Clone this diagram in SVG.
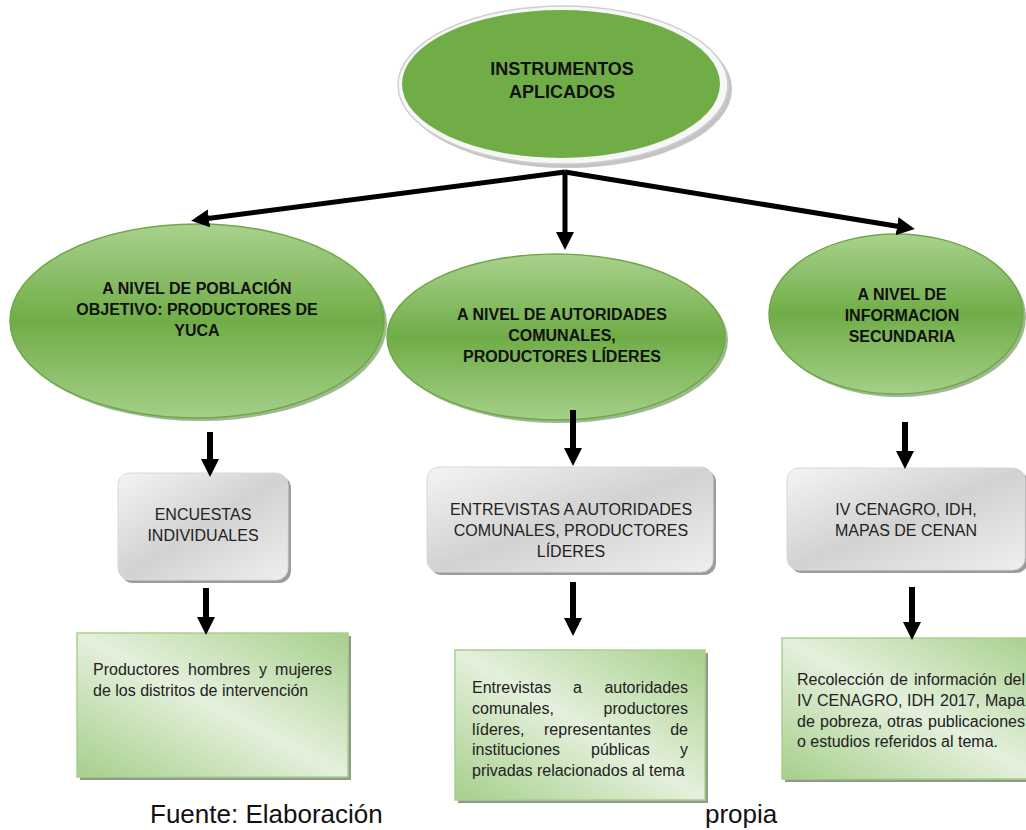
<svg xmlns="http://www.w3.org/2000/svg" width="1026" height="830" viewBox="0 0 1026 830">
<defs>
<linearGradient id="gEll" x1="0" y1="0" x2="0" y2="1">
<stop offset="0" stop-color="#a9d18e"/>
<stop offset="0.5" stop-color="#70ad47"/>
<stop offset="1" stop-color="#a4cf88"/>
</linearGradient>
<linearGradient id="gGrey" x1="0" y1="0" x2="1" y2="1">
<stop offset="0" stop-color="#f4f4f4"/>
<stop offset="0.5" stop-color="#d2d2d2"/>
<stop offset="1" stop-color="#efefef"/>
</linearGradient>
<linearGradient id="gGreen" x1="1" y1="0" x2="0" y2="1">
<stop offset="0" stop-color="#a6cf8b"/>
<stop offset="0.5" stop-color="#e4f0dc"/>
<stop offset="1" stop-color="#a6cf8b"/>
</linearGradient>
<marker id="ah" markerUnits="userSpaceOnUse" markerWidth="18" markerHeight="18" viewBox="0 0 18 18" refX="5" refY="9" orient="auto">
<path d="M0,0 L18,9 L0,18 z" fill="#000"/>
</marker>
</defs>
<style>
.shadowE{fill:#4f7f33;opacity:0.55}
.ell{fill:url(#gEll);stroke:#6fa848;stroke-width:1.5}
.grey{fill:url(#gGrey);stroke:#d8d8d8;stroke-width:1}
.greyS{fill:#9c9c9c}
.green{fill:url(#gGreen);stroke:#a9d18e;stroke-width:1.5}
.greenS{fill:#8f9a88}
.conn{stroke:#000;stroke-width:5;fill:none;marker-end:url(#ah)}
.stub{stroke:#000;stroke-width:6;fill:none;marker-end:url(#ah)}
.tb{font-family:"Liberation Sans",Arial,sans-serif;font-weight:bold;fill:#111;text-anchor:middle}
.tr{font-family:"Liberation Sans",Arial,sans-serif;font-size:16px;fill:#222}
.c{text-anchor:middle}
.e{text-anchor:end}
.foot{font-family:"Liberation Sans",Arial,sans-serif;font-size:26px;fill:#111}
</style>

<g id="instrumentos">
<ellipse cx="567" cy="89" rx="165" ry="79" fill="#8a8a8a" opacity="0.5"/>
<ellipse cx="563" cy="85" rx="165" ry="79" fill="#f7f7f7" stroke="#cfcfcf" stroke-width="1.5"/>
<ellipse cx="561" cy="84" rx="159" ry="74" fill="#70ad47"/>
<text class="tb" font-size="18" x="562" y="75">INSTRUMENTOS</text>
<text class="tb" font-size="18" x="562" y="98">APLICADOS</text>
</g>

<g id="nivel-poblacion">
<ellipse class="shadowE" cx="200" cy="324" rx="187" ry="97"/>
<ellipse class="ell" cx="197" cy="321" rx="187" ry="97"/>
<text class="tb" font-size="16" x="197" y="294">A NIVEL DE POBLACIÓN</text>
<text class="tb" font-size="16" x="197" y="315">OBJETIVO: PRODUCTORES DE</text>
<text class="tb" font-size="16" x="197" y="336">YUCA</text>
</g>

<g id="nivel-autoridades">
<ellipse class="shadowE" cx="559" cy="340" rx="169" ry="83"/>
<ellipse class="ell" cx="556" cy="337" rx="169" ry="83"/>
<text class="tb" font-size="16" x="562" y="320">A NIVEL DE AUTORIDADES</text>
<text class="tb" font-size="16" x="562" y="341">COMUNALES,</text>
<text class="tb" font-size="16" x="562" y="362">PRODUCTORES LÍDERES</text>
</g>

<g id="nivel-informacion">
<ellipse class="shadowE" cx="899" cy="317" rx="127" ry="80"/>
<ellipse class="ell" cx="896" cy="314" rx="127" ry="80"/>
<text class="tb" font-size="16" x="902" y="300">A NIVEL DE</text>
<text class="tb" font-size="16" x="902" y="321">INFORMACION</text>
<text class="tb" font-size="16" x="902" y="342">SECUNDARIA</text>
</g>

<g id="encuestas">
<rect class="greyS" x="121" y="476" width="170" height="107" rx="12"/>
<rect class="grey" x="118" y="473" width="170" height="107" rx="12"/>
<text class="tr c" x="203" y="520">ENCUESTAS</text>
<text class="tr c" x="203" y="541">INDIVIDUALES</text>
</g>

<g id="entrevistas">
<rect class="greyS" x="430" y="470" width="286" height="105" rx="12"/>
<rect class="grey" x="427" y="467" width="286" height="105" rx="12"/>
<text class="tr c" x="571" y="515">ENTREVISTAS A AUTORIDADES</text>
<text class="tr c" x="571" y="536">COMUNALES, PRODUCTORES</text>
<text class="tr c" x="571" y="557">LÍDERES</text>
</g>

<g id="cenagro">
<rect class="greyS" x="790" y="471" width="238" height="102" rx="12"/>
<rect class="grey" x="787" y="468" width="238" height="102" rx="12"/>
<text class="tr c" x="906" y="515">IV CENAGRO, IDH,</text>
<text class="tr c" x="906" y="536">MAPAS DE CENAN</text>
</g>

<g id="productores">
<rect class="greenS" x="80" y="636" width="271" height="144"/>
<rect class="green" x="77" y="633" width="271" height="144"/>
<text class="tr" y="675"><tspan x="93">Productores</tspan><tspan x="188">hombres</tspan><tspan x="259">y</tspan><tspan x="332" text-anchor="end">mujeres</tspan></text>
<text class="tr" x="93" y="696">de los distritos de intervención</text>
</g>

<g id="detalle-entrevistas">
<rect class="greenS" x="458" y="653" width="250" height="150"/>
<rect class="green" x="455" y="650" width="250" height="150"/>
<text class="tr" y="693"><tspan x="472">Entrevistas</tspan><tspan x="573">a</tspan><tspan x="688" text-anchor="end">autoridades</tspan></text>
<text class="tr" y="714"><tspan x="472">comunales,</tspan><tspan x="688" text-anchor="end">productores</tspan></text>
<text class="tr" y="735"><tspan x="472">líderes,</tspan><tspan x="544">representantes</tspan><tspan x="688" text-anchor="end">de</tspan></text>
<text class="tr" y="755"><tspan x="472">instituciones</tspan><tspan x="591">públicas</tspan><tspan x="688" text-anchor="end">y</tspan></text>
<text class="tr" x="472" y="776">privadas relacionados al tema</text>
</g>

<g id="recoleccion">
<rect class="greenS" x="785" y="641" width="260" height="141"/>
<rect class="green" x="782" y="638" width="260" height="141"/>
<text class="tr" y="685"><tspan x="797">Recolección</tspan><tspan x="890">de</tspan><tspan x="914">información</tspan><tspan x="1025" text-anchor="end">del</tspan></text>
<text class="tr" y="706"><tspan x="797">IV</tspan><tspan x="817">CENAGRO,</tspan><tspan x="907">IDH</tspan><tspan x="940">2017,</tspan><tspan x="1025" text-anchor="end">Mapa</tspan></text>
<text class="tr" y="727"><tspan x="797">de</tspan><tspan x="820">pobreza,</tspan><tspan x="887">otras</tspan><tspan x="1025" text-anchor="end">publicaciones</tspan></text>
<text class="tr" x="797" y="747">o estudios referidos al tema.</text>
</g>

<g id="connectors">
<line class="conn" x1="565" y1="172" x2="204" y2="219"/>
<line class="conn" x1="565" y1="172" x2="565" y2="237"/>
<line class="conn" x1="565" y1="172" x2="902" y2="227"/>
<line class="stub" x1="210" y1="432" x2="210" y2="464"/>
<line class="stub" x1="206" y1="588" x2="206" y2="622"/>
<line class="stub" x1="573" y1="410" x2="573" y2="453"/>
<line class="stub" x1="573" y1="582" x2="573" y2="623"/>
<line class="stub" x1="905" y1="422" x2="905" y2="456"/>
<line class="stub" x1="912" y1="587" x2="912" y2="627"/>
</g>

<text class="foot" x="150" y="823">Fuente: Elaboración</text>
<text class="foot" x="705" y="823">propia</text>
</svg>
